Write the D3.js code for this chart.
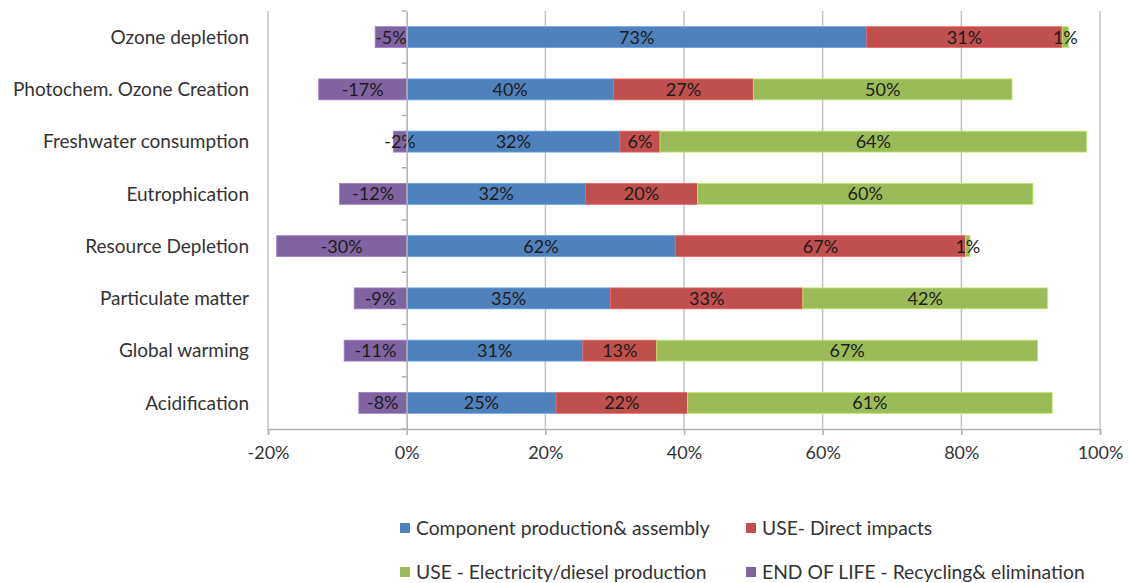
<!DOCTYPE html>
<html>
<head>
<meta charset="utf-8">
<script src="https://cdn.jsdelivr.net/npm/d3@7/dist/d3.min.js"></script>
<style>
  html, body { margin: 0; padding: 0; background: #fff; }
  svg { display: block; font-family: Lato, "Open Sans", sans-serif; }
</style>
</head>
<body>
<svg id="chart" width="1130" height="583"></svg>
<script>
// ---- data (percent labels as shown; bars are drawn as 100% stacked, Excel-style) ----
const categories = ["Ozone depletion", "Photochem. Ozone Creation", "Freshwater consumption",
  "Eutrophication", "Resource Depletion", "Particulate matter", "Global warming", "Acidification"];
const seriesNames = ["Component production& assembly", "USE- Direct impacts",
  "USE - Electricity/diesel production", "END OF LIFE - Recycling& elimination"];
const componentProduction = [73, 40, 32, 32, 62, 35, 31, 25];
const useDirect           = [31, 27, 6, 20, 67, 33, 13, 22];
const useElectricity      = [1, 50, 64, 60, 1, 42, 67, 61];
const endOfLife           = [-5, -17, -2, -12, -30, -9, -11, -8];
const xTicks = [-0.2, 0, 0.2, 0.4, 0.6, 0.8, 1.0];
const colors = ["#4F81BD", "#C0504D", "#9BBB59", "#8064A2"];

const svg = d3.select("#chart");
const x = d3.scaleLinear().domain([-0.2, 1.0]).range([268, 1100]);
const y = d3.scaleBand().domain(categories).range([11, 429]).paddingInner(0.6).paddingOuter(0.3);

// gridlines
svg.append("g").selectAll("line").data(xTicks.filter(t => t !== 0)).join("line")
  .attr("x1", d => x(d)).attr("x2", d => x(d)).attr("y1", 11).attr("y2", 429)
  .attr("stroke", "#c4c4c4").attr("stroke-width", 1.5);

// build stacked segments (normalized by sum of absolute values, as a 100% stacked bar)
const seriesArrays = [componentProduction, useDirect, useElectricity, endOfLife];
const segments = [];
categories.forEach((c, i) => {
  const vals = seriesArrays.map(a => a[i]);
  const total = d3.sum(vals, v => Math.abs(v));
  let pos = 0, neg = 0;
  vals.forEach((v, s) => {
    const share = v / total;
    let x0, x1;
    if (share >= 0) { x0 = pos; x1 = pos + share; pos = x1; }
    else { x1 = neg; x0 = neg + share; neg = x0; }
    segments.push({cat: c, s, v, x0, x1});
  });
});

svg.append("g").selectAll("rect").data(segments).join("rect")
  .attr("x", d => x(d.x0)).attr("width", d => x(d.x1) - x(d.x0))
  .attr("y", d => y(d.cat)).attr("height", y.bandwidth())
  .attr("fill", d => colors[d.s])
  .attr("stroke", d => d3.color(colors[d.s]).brighter(0.6)).attr("stroke-width", 0.8);

svg.append("g").selectAll("text").data(segments).join("text")
  .attr("x", d => (x(d.x0) + x(d.x1)) / 2)
  .attr("y", d => y(d.cat) + y.bandwidth() / 2)
  .attr("dy", "0.36em").attr("text-anchor", "middle")
  .attr("font-size", 18).attr("fill", "#1c1c1c")
  .text(d => d.v + "%");

// category axis at 0
const yAxis = svg.append("g").attr("transform", `translate(${x(0)},0)`)
  .call(d3.axisLeft(y).tickSize(0).tickFormat(""));
yAxis.select(".domain").attr("stroke", "#b0b0b0").attr("stroke-width", 1.5);
const boundaries = d3.range(categories.length + 1).map(i => 11 + i * (418 / categories.length));
svg.append("g").selectAll("line").data(boundaries).join("line")
  .attr("x1", x(0) - 5).attr("x2", x(0)).attr("y1", d => d).attr("y2", d => d)
  .attr("stroke", "#b0b0b0").attr("stroke-width", 1.5);

// category labels
svg.append("g").selectAll("text").data(categories).join("text")
  .attr("x", 249).attr("y", d => y(d) + y.bandwidth() / 2).attr("dy", "0.36em")
  .attr("text-anchor", "end").attr("font-size", 19).attr("fill", "#333")
  .text(d => d);

// x axis
const xAxis = svg.append("g").attr("transform", "translate(0,429)")
  .call(d3.axisBottom(x).tickValues(xTicks).tickSize(6).tickPadding(11).tickFormat(d3.format(".0%")));
xAxis.select(".domain").attr("stroke", "#b0b0b0").attr("stroke-width", 1.5);
xAxis.selectAll(".tick line").attr("stroke", "#b0b0b0").attr("stroke-width", 1.5);
xAxis.selectAll(".tick text").attr("font-size", 18).attr("fill", "#333")
  .attr("font-family", "Lato, 'Open Sans', sans-serif").text(d => Math.round(d * 100) + "%");

// legend
const legendPos = [[400, 528], [746, 528], [400, 572], [746, 572]];
const leg = svg.append("g").selectAll("g").data(seriesNames).join("g")
  .attr("transform", (d, i) => `translate(${legendPos[i][0]},${legendPos[i][1]})`);
leg.append("rect").attr("x", 0).attr("y", -5).attr("width", 10).attr("height", 10)
  .attr("fill", (d, i) => colors[i]);
leg.append("text").attr("x", 16).attr("dy", "0.36em").attr("font-size", 19.3).attr("fill", "#333")
  .text(d => d);
</script>
</body>
</html>
